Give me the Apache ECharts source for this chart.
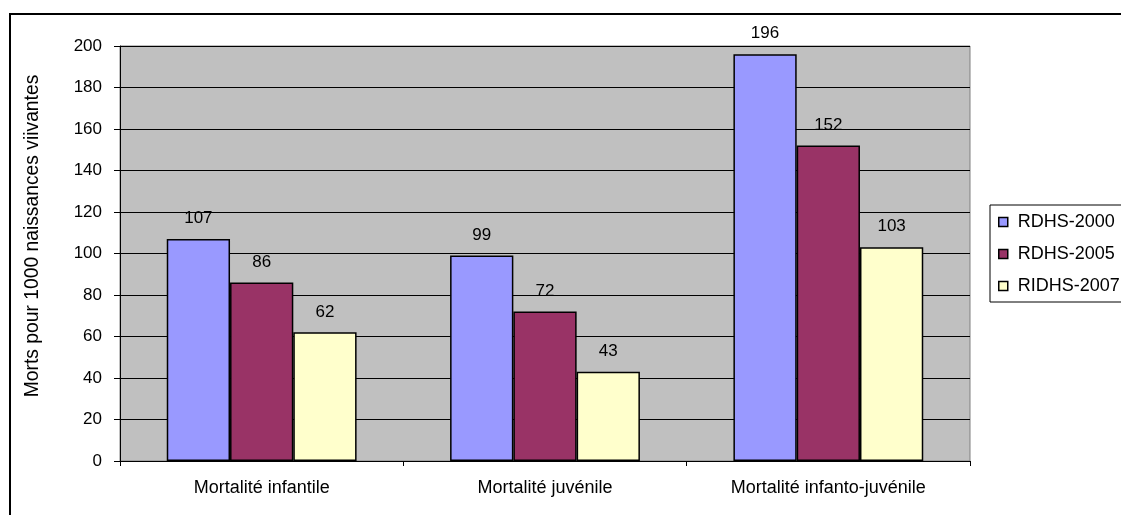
<!DOCTYPE html>
<html>
<head>
<meta charset="utf-8">
<script src="https://cdn.jsdelivr.net/npm/echarts@6/dist/echarts.min.js"></script>
<style>
  html, body { margin: 0; padding: 0; background: #fff; }
  #chart { width: 1121px; height: 515px; }
</style>
</head>
<body>
<div id="chart"></div>
<script>
// Child mortality indicators by survey round
const categories = ['Mortalité infantile', 'Mortalité juvénile', 'Mortalité infanto-juvénile'];
const seriesNames = ['RDHS-2000', 'RDHS-2005', 'RIDHS-2007'];
const rdhs2000 = [107, 99, 196];
const rdhs2005 = [86, 72, 152];
const ridhs2007 = [62, 43, 103];
const yTicks = [0, 20, 40, 60, 80, 100, 120, 140, 160, 180, 200];
const yTitle = 'Morts pour 1000 naissances viivantes';

const colors = ['#9999FF', '#993366', '#FFFFCC'];
const font = 'Liberation Sans, Arial, sans-serif';

const chart = echarts.init(document.getElementById('chart'));

function barSeries(name, data, color) {
  return {
    name: name,
    type: 'bar',
    data: data,
    barGap: '0%',
    barCategoryGap: '33%',
    itemStyle: { color: color, borderColor: '#000', borderWidth: 1.5 },
    label: {
      show: true, position: 'top', distance: 12,
      color: '#000', fontFamily: font, fontSize: 17
    }
  };
}

chart.setOption({
  animation: false,
  backgroundColor: '#fff',
  grid: { left: 120, right: 151, top: 46, bottom: 54, show: true,
          backgroundColor: '#C0C0C0', borderColor: '#808080', borderWidth: 1 },
  legend: {
    orient: 'vertical', left: 990, top: 205,
    data: seriesNames,
    itemWidth: 9, itemHeight: 9, itemGap: 14,
    padding: [8, 20, 7, 8],
    borderColor: '#000', borderWidth: 1,
    backgroundColor: '#fff',
    textStyle: { fontFamily: font, fontSize: 18, color: '#000', padding: [0, 0, 0, 5] },
    icon: 'rect',
    itemStyle: { borderColor: '#000', borderWidth: 1.5 }
  },
  xAxis: {
    type: 'category',
    data: categories,
    axisLine: { lineStyle: { color: '#000', width: 1 } },
    axisTick: { show: true, alignWithLabel: false, length: 5, lineStyle: { color: '#000' } },
    axisLabel: { color: '#000', fontFamily: font, fontSize: 18, margin: 18 }
  },
  yAxis: {
    type: 'value',
    min: yTicks[0], max: yTicks[yTicks.length - 1], interval: 20,
    axisLine: { show: true, lineStyle: { color: '#000', width: 1 } },
    axisTick: { show: true, length: 6, lineStyle: { color: '#000' } },
    axisLabel: { color: '#000', fontFamily: font, fontSize: 17, margin: 18 },
    splitLine: { show: true, lineStyle: { color: '#000', width: 1 } }
  },
  series: [
    barSeries(seriesNames[0], rdhs2000, colors[0]),
    barSeries(seriesNames[1], rdhs2005, colors[1]),
    barSeries(seriesNames[2], ridhs2007, colors[2])
  ],
  graphic: [
    {
      // vertical axis title
      type: 'text', silent: true,
      x: 33, y: 236, rotation: Math.PI / 2,
      style: {
        text: yTitle, fontFamily: font, fontSize: 19.3, fill: '#000',
        align: 'center', verticalAlign: 'middle'
      }
    },
    {
      // outer frame
      type: 'rect', silent: true, z: 100,
      shape: { x: 10, y: 14, width: 1200, height: 600 },
      style: { fill: 'none', stroke: '#000', lineWidth: 2 }
    }
  ]
});
</script>
</body>
</html>
